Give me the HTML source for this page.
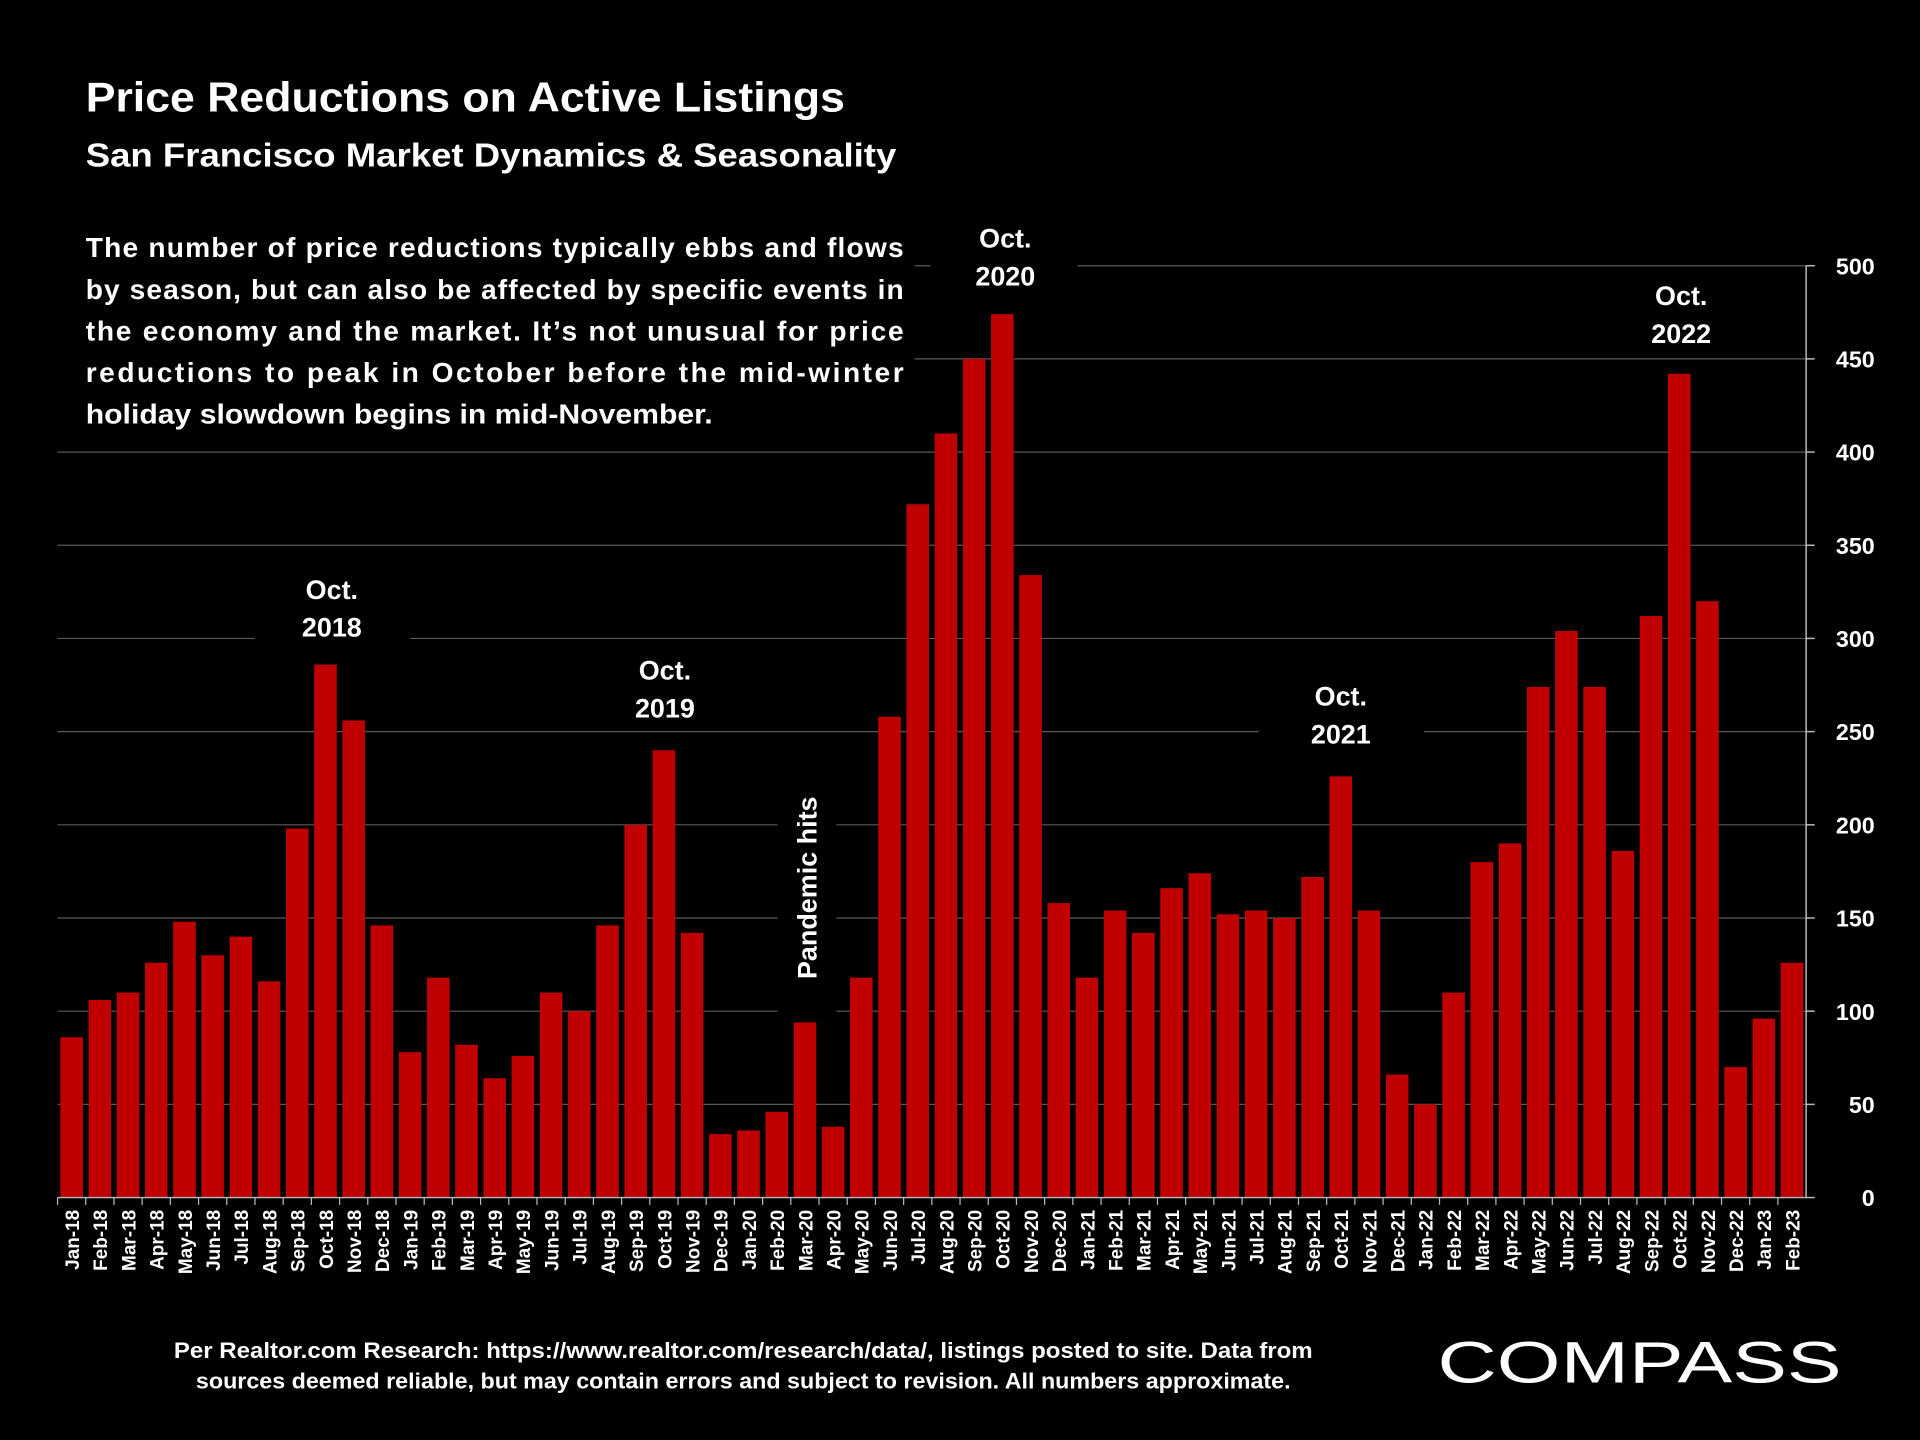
<!DOCTYPE html>
<html><head><meta charset="utf-8"><style>
html,body{margin:0;padding:0;background:#000;width:1920px;height:1440px;overflow:hidden}
svg{display:block}
text{font-family:"Liberation Sans",sans-serif;font-weight:bold;fill:#fff}
</style></head><body>
<svg id="chart" width="1920" height="1440" viewBox="0 0 1568 1176" xmlns="http://www.w3.org/2000/svg">
<rect width="1568" height="1176" fill="#000"/>
<g id="grid"></g>
<g id="masks"></g>
<g id="bars"></g>
<g id="yaxis"></g>
<g id="xaxis"></g>
<text x="70" y="91" font-size="34" textLength="620" lengthAdjust="spacingAndGlyphs">Price Reductions on Active Listings</text>
<text x="70" y="136" font-size="27" textLength="662" lengthAdjust="spacingAndGlyphs">San Francisco Market Dynamics &amp; Seasonality</text>
<g font-size="23">
<text x="70" y="210" textLength="668" lengthAdjust="spacing">The number of price reductions typically ebbs and flows</text>
<text x="70" y="244" textLength="668" lengthAdjust="spacing">by season, but can also be affected by specific events in</text>
<text x="70" y="278" textLength="668" lengthAdjust="spacing">the economy and the market. It’s not unusual for price</text>
<text x="70" y="312" textLength="668" lengthAdjust="spacing">reductions to peak in October before the mid-winter</text>
<text x="70" y="346" textLength="512" lengthAdjust="spacingAndGlyphs">holiday slowdown begins in mid-November.</text>
</g>
<g font-size="22" text-anchor="middle">
<text x="271" y="489">Oct.</text><text x="271" y="520">2018</text>
<text x="543" y="555">Oct.</text><text x="543" y="586">2019</text>
<text x="821" y="202">Oct.</text><text x="821" y="233">2020</text>
<text x="1095" y="576">Oct.</text><text x="1095" y="607">2021</text>
<text x="1373" y="249">Oct.</text><text x="1373" y="280">2022</text>
<text transform="translate(667,725) rotate(-90)">Pandemic hits</text>
</g>
<g font-size="18" fill="#e6e6e6" text-anchor="middle">
<text x="607" y="1109" textLength="930" lengthAdjust="spacingAndGlyphs">Per Realtor.com Research:  https://www.realtor.com/research/data/, listings posted to site. Data from</text>
<text x="607" y="1134" textLength="894" lengthAdjust="spacingAndGlyphs">sources deemed reliable, but may contain errors and subject to revision. All numbers approximate.</text>
</g>
<text x="1174" y="1129" font-size="48" textLength="330" lengthAdjust="spacingAndGlyphs" style="font-weight:normal">COMPASS</text>
</svg>
<script>
const categories = ["Jan-18","Feb-18","Mar-18","Apr-18","May-18","Jun-18","Jul-18","Aug-18","Sep-18","Oct-18","Nov-18","Dec-18",
"Jan-19","Feb-19","Mar-19","Apr-19","May-19","Jun-19","Jul-19","Aug-19","Sep-19","Oct-19","Nov-19","Dec-19",
"Jan-20","Feb-20","Mar-20","Apr-20","May-20","Jun-20","Jul-20","Aug-20","Sep-20","Oct-20","Nov-20","Dec-20",
"Jan-21","Feb-21","Mar-21","Apr-21","May-21","Jun-21","Jul-21","Aug-21","Sep-21","Oct-21","Nov-21","Dec-21",
"Jan-22","Feb-22","Mar-22","Apr-22","May-22","Jun-22","Jul-22","Aug-22","Sep-22","Oct-22","Nov-22","Dec-22",
"Jan-23","Feb-23"];
const values = [86,106,110,126,148,130,140,116,198,286,256,146,
78,118,82,64,76,110,100,146,200,240,142,34,
36,46,94,38,118,258,372,410,450,474,334,158,
118,154,142,166,174,152,154,150,172,226,154,66,
50,110,180,190,274,304,274,186,312,442,320,70,
96,126];
const yTicks = [0,50,100,150,200,250,300,350,400,450,500];
const NS="http://www.w3.org/2000/svg";
const X0=47,X1=1475,Y0=978,Y1=217,VMAX=500;
const y=v=>Y0-(v/VMAX)*(Y0-Y1);
const step=(X1-X0)/categories.length;
const xc=i=>X0+step*(i+0.5);
function mk(tag,attrs,parent){const e=document.createElementNS(NS,tag);for(const k in attrs)e.setAttribute(k,attrs[k]);parent.appendChild(e);return e;}
const grid=document.getElementById('grid'),masks=document.getElementById('masks'),bars=document.getElementById('bars'),ya=document.getElementById('yaxis'),xa=document.getElementById('xaxis');
yTicks.forEach(t=>{
  if(t>0){const g=mk('line',{x1:X0,x2:X1,y1:y(t),y2:y(t),stroke:'#5a5a5a','stroke-width':1},grid);
  
  }
  const tk=mk('line',{x1:X1,x2:X1+7,y1:y(t),y2:y(t),stroke:'#bbb','stroke-width':1.2},ya);
  
  
  const lb=mk('text',{x:1531,y:y(t)+7,'font-size':19,'text-anchor':'end'},ya);
  lb.textContent=t;
  
  
});
const al=mk('line',{x1:X1,x2:X1,y1:Y1,y2:Y0,stroke:'#bbb','stroke-width':1.2},ya);


[[47,180,700,178],[208,458,127,70],[470,524,147,70],[760,172,120,70],[1028,545,135,70],[1312,220,104,70],[635,640,48,190]].forEach(r=>{
  const m=mk('rect',{x:r[0],y:r[1],width:r[2],height:r[3],fill:'#000'},masks);
  
  
});
const bw=step*0.8;
categories.forEach((c,i)=>{
  const b=mk('rect',{x:xc(i)-bw/2,y:y(values[i]),width:bw,height:Y0-y(values[i]),fill:'#c00000'},bars);
  
  
  const t=mk('line',{x1:X0+step*i,x2:X0+step*i,y1:Y0,y2:Y0+6,stroke:'#bbb','stroke-width':1},xa);
  
  
  const l=mk('text',{transform:`translate(${xc(i)+6},${Y0+10}) rotate(-90)`,'font-size':15.5,'text-anchor':'end'},xa);
  l.textContent=c;
  
  
});
const xl=mk('line',{x1:X0,x2:X1,y1:Y0,y2:Y0,stroke:'#bbb','stroke-width':1.2},xa);


</script>
</body></html>
